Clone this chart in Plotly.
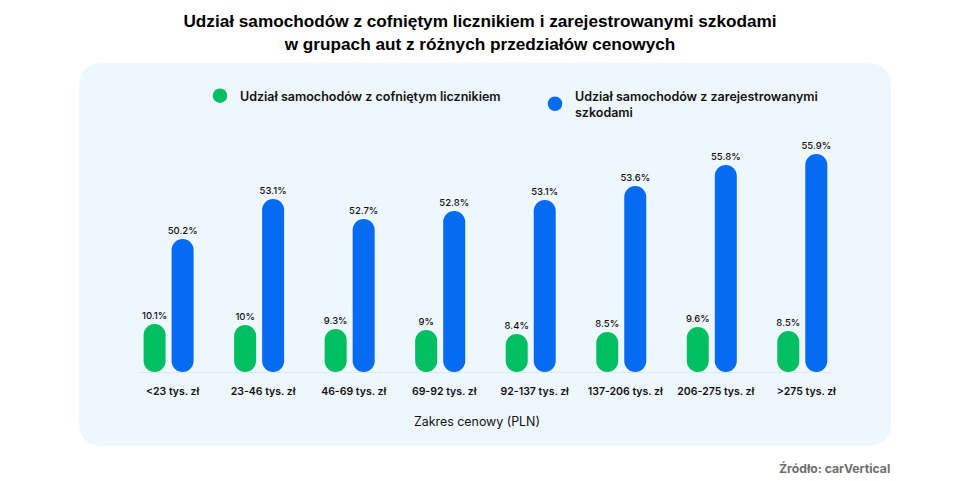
import plotly.graph_objects as go

price_ranges = ['<23 tys. zł', '23-46 tys. zł', '46-69 tys. zł', '69-92 tys. zł',
                '92-137 tys. zł', '137-206 tys. zł', '206-275 tys. zł', '>275 tys. zł']

# printed labels
odometer_labels = ['10.1%', '10%', '9.3%', '9%', '8.4%', '8.5%', '9.6%', '8.5%']
damage_labels = ['50.2%', '53.1%', '52.7%', '52.8%', '53.1%', '53.6%', '55.8%', '55.9%']

# drawn bar lengths, they do not follow the printed labels linearly
odometer_drawn = [48, 47, 43, 42, 38, 40, 45, 41]
damage_drawn = [133, 173, 153, 161, 172, 186, 207, 218]

# page keeps an 8px body margin on the left and top
PAGE = 8
W, H = 960 - 2 * PAGE, 481 - PAGE
GREEN = '#00BF63'
BLUE = '#056CF2'
TEXT = '#111111'
FONT = 'Inter'
RADIUS = 11
SPACING = 90.5
BAR_W = 22 / SPACING
L, T, PW, PH = 139, 130, 692, 242  # plot area in window pixels


def px(x):
    return (x - L) / PW


def py(y):
    return 1 - (y - T) / PH


def pill(values, labels, color, offset):
    # explicit base makes plotly round both ends of the bar
    return go.Bar(x=price_ranges, y=values, base=0, width=BAR_W, offset=offset,
                  marker=dict(color=color, cornerradius=RADIUS, line_width=0),
                  text=labels, textposition='outside', cliponaxis=False, constraintext='none',
                  textfont=dict(size=9.5, color=TEXT, family=FONT, weight=500), showlegend=False)


fig = go.Figure()
fig.add_trace(pill(odometer_drawn, odometer_labels, GREEN, -25 / SPACING))
fig.add_trace(pill(damage_drawn, damage_labels, BLUE, 3 / SPACING))

# legend entries
fig.add_trace(go.Scatter(x=[None], y=[None], mode='markers', name='Udział samochodów z cofniętym licznikiem',
                         marker=dict(color=GREEN, size=14.5)))
fig.add_trace(go.Scatter(x=[None], y=[None], mode='markers',
                         name='Udział samochodów z zarejestrowanymi<br>szkodami',
                         marker=dict(color=BLUE, size=14.5)))

# panel behind the chart
x0, x1, y0, y1 = px(79), px(891), py(446), py(63)
rx, ry = 24 / PW, 24 / PH
panel = (f'M {x0 + rx} {y0} L {x1 - rx} {y0} Q {x1} {y0} {x1} {y0 + ry} L {x1} {y1 - ry} '
         f'Q {x1} {y1} {x1 - rx} {y1} L {x0 + rx} {y1} Q {x0} {y1} {x0} {y1 - ry} '
         f'L {x0} {y0 + ry} Q {x0} {y0} {x0 + rx} {y0} Z')
fig.add_shape(type='path', path=panel, xref='paper', yref='paper', fillcolor='#EFF7FE',
              line_width=0, layer='below')

fig.add_annotation(text='Zakres cenowy (PLN)', xref='paper', yref='paper', x=px(477), y=py(421), yanchor='middle',
                   showarrow=False, font=dict(size=12.4, color=TEXT, family=FONT))
fig.add_annotation(text='<b>Źródło: carVertical</b>', xref='paper', yref='paper', x=px(892),
                   y=py(468), xanchor='right', yanchor='middle', showarrow=False,
                   font=dict(size=12.2, color='#6E6E6E', family=FONT))

fig.update_layout(
    width=W, height=H,
    margin=dict(l=L - PAGE, r=W - (L - PAGE) - PW, t=T - PAGE, b=H - (T - PAGE) - PH),
    paper_bgcolor='white', plot_bgcolor='rgba(0,0,0,0)',
    barmode='overlay',
    font=dict(family=FONT, color=TEXT),
    title=dict(text='<b>Udział samochodów z cofniętym licznikiem i zarejestrowanymi szkodami<br>'
                    'w grupach aut z różnych przedziałów cenowych</b>',
               x=0.5, xanchor='center', y=0.9588, yanchor='top',
               font=dict(size=17.2, color='black', family='Liberation Sans')),
    legend=dict(orientation='h', x=px(200), y=py(81), xanchor='left', yanchor='top',
                entrywidth=290, entrywidthmode='pixels', bgcolor='rgba(0,0,0,0)',
                font=dict(size=12.5, color=TEXT, family=FONT, weight=600)),
    xaxis=dict(type='category', categoryorder='array', categoryarray=price_ranges,
               range=[-0.327, 7.317], showgrid=False, zeroline=False,
               showline=True, linecolor='#D8EAF8', linewidth=1, ticks='', ticklabelstandoff=9,
               ticklabelshift=4, ticklabeloverflow='allow',
               tickfont=dict(size=10.5, color=TEXT, family=FONT, weight=600)),
    yaxis=dict(range=[0, PH], visible=False),
)

fig.write_html('out.html')
